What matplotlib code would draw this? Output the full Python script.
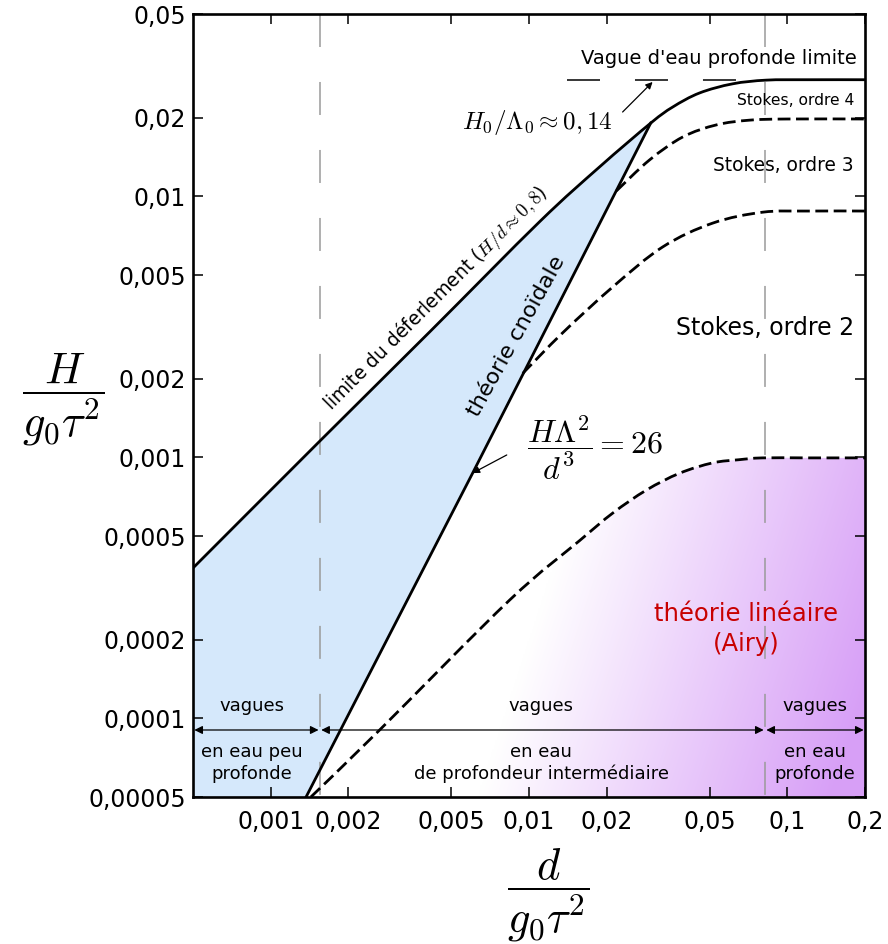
import numpy as np
import matplotlib
matplotlib.use("Agg")
import matplotlib.pyplot as plt
from matplotlib.patches import Polygon, PathPatch
from matplotlib.path import Path
from matplotlib.ticker import FixedLocator, FixedFormatter, NullLocator

plt.rcParams['mathtext.fontset'] = 'cm'
plt.rcParams['font.family'] = ['DejaVu Sans']

# ---------------- data ----------------
x_ticks = [0.001, 0.002, 0.005, 0.01, 0.02, 0.05, 0.1, 0.2]
x_tick_labels = ['0,001', '0,002', '0,005', '0,01', '0,02', '0,05', '0,1', '0,2']
y_ticks = [0.00005, 0.0001, 0.0002, 0.0005, 0.001, 0.002, 0.005, 0.01, 0.02, 0.05]
y_tick_labels = ['0,00005', '0,0001', '0,0002', '0,0005', '0,001', '0,002',
                 '0,005', '0,01', '0,02', '0,05']
x_limits = [0.0005, 0.2]
y_limits = [0.00005, 0.05]

# breaking limit (solid)
break_d = [0.0005, 0.00155, 0.00413, 0.01099, 0.01875, 0.0296, 0.0360, 0.0457, 0.0614, 0.0830, 0.12, 0.2]
break_H = [0.000377, 0.001156, 0.00303, 0.0080, 0.01297, 0.0191, 0.0220, 0.0249, 0.0270, 0.0279, 0.0280, 0.0280]
junction_index = 5  # break_d[5] is where the Ursell line meets the breaking limit

# Ursell number HL^2/d^3 = 26 (solid)
cnoidal_d = [0.00137, 0.00605, 0.0296]
cnoidal_H = [0.00005, 0.000871, 0.0191]

# Stokes 4 / Stokes 3 boundary (dashed)
s43_d = [0.0218, 0.0293, 0.0394, 0.0532, 0.0715, 0.10, 0.2]
s43_H = [0.0105, 0.0138, 0.0169, 0.0188, 0.0196, 0.0198, 0.0198]

# Stokes 3 / Stokes 2 boundary (dashed)
s32_d = [0.00946, 0.01349, 0.0211, 0.0329, 0.0514, 0.0802, 0.12, 0.2]
s32_H = [0.00210, 0.0030, 0.0045, 0.0064, 0.0079, 0.0087, 0.00879, 0.00879]

# Stokes 2 / linear theory boundary (dashed)
s2_d = [0.00143, 0.00264, 0.00841, 0.0157, 0.0211, 0.0285, 0.0383, 0.0514, 0.065, 0.0802, 0.12, 0.2]
s2_H = [0.00005, 0.0000903, 0.000284, 0.000480, 0.000612, 0.00075, 0.00087, 0.000953, 0.00098,
        0.000996, 0.000996, 0.000996]

# shallow / deep water limits (gray dashed verticals)
shallow_limit = 0.00155
deep_limit = 0.082

# deep-water limiting wave symbol
deep_wave_d = [0.0140, 0.0635]
deep_wave_H = [0.0280, 0.0280]


def smooth_segments(xs, ys):
    """Catmull-Rom curve through the read points, as cubic Bezier segments (log space)."""
    P = np.column_stack([np.log10(xs), np.log10(ys)])
    n = len(P)
    segs = []
    for i in range(n - 1):
        p0 = P[i - 1] if i > 0 else P[i]
        p3 = P[i + 2] if i + 2 < n else P[i + 1]
        c1 = P[i] + (P[i + 1] - p0) / 6.0
        c2 = P[i + 1] - (p3 - P[i]) / 6.0
        segs.append((10 ** c1, 10 ** c2, 10 ** P[i + 1]))
    return 10 ** P[0], segs


def curve_path(xs, ys):
    start, segs = smooth_segments(xs, ys)
    verts = [start]
    codes = [Path.MOVETO]
    for c1, c2, p in segs:
        verts += [c1, c2, p]
        codes += [Path.CURVE4] * 3
    return Path(np.array(verts), codes)


# ---------------- figure ----------------
W, Hpx = 888, 944
fig = plt.figure(figsize=(W / 100, Hpx / 100), dpi=100)
L, R, B, T = 193, 865, 797, 14
ax = fig.add_axes([L / W, 1 - B / Hpx, (R - L) / W, (B - T) / Hpx])
ax.set_xscale('log')
ax.set_yscale('log')
ax.set_xlim(*x_limits)
ax.set_ylim(*y_limits)

# purple gradient under linear-theory boundary
nx, ny = 500, 500
XF, YF = np.meshgrid(np.linspace(0, 1, nx), np.linspace(0, 1, ny))
px = L + XF * (R - L)
py = B - YF * (B - T)
t = ((px - 478) * 0.95 + (py - 797) * 0.31) / 335.0
t = np.clip(t, 0, 1)
purple = np.array([0.845, 0.625, 0.968])
img = np.ones((ny, nx, 3)) * (1 - t[..., None]) + purple * t[..., None]
im = ax.imshow(img, extent=[0, 1, 0, 1], transform=ax.transAxes, origin='lower',
               aspect='auto', zorder=1, interpolation='bilinear')
start, segs = smooth_segments(s2_d, s2_H)
verts = [start]
codes = [Path.MOVETO]
for c1, c2, p in segs:
    verts += [c1, c2, p]
    codes += [Path.CURVE4] * 3
verts += [(x_limits[1], y_limits[0]), (s2_d[0], y_limits[0]), start]
codes += [Path.LINETO, Path.LINETO, Path.CLOSEPOLY]
clip_patch = PathPatch(Path(np.array(verts), codes), transform=ax.transData,
                       facecolor='none', edgecolor='none')
ax.add_patch(clip_patch)
im.set_clip_path(clip_patch)

# blue cnoidal region
start, segs = smooth_segments(break_d, break_H)
verts = [(x_limits[0], y_limits[0]), start]
codes = [Path.MOVETO, Path.LINETO]
for c1, c2, p in segs[:junction_index]:
    verts += [c1, c2, p]
    codes += [Path.CURVE4] * 3
for cx, cy in zip(cnoidal_d[::-1][1:], cnoidal_H[::-1][1:]):
    verts.append((cx, cy))
    codes.append(Path.LINETO)
verts.append((x_limits[0], y_limits[0]))
codes.append(Path.CLOSEPOLY)
ax.add_patch(PathPatch(Path(np.array(verts), codes), facecolor='#d5e8fb', edgecolor='none',
                       zorder=1.5))

# gray vertical limits
for xv in [shallow_limit, deep_limit]:
    ax.plot([xv, xv], [y_limits[1], y_limits[0]], color='#9a9a9a', lw=1.1,
            dashes=(21.6, 22.9), zorder=2)

lw = 2.0
ax.add_patch(PathPatch(curve_path(break_d, break_H), fill=False, edgecolor='k', lw=lw, zorder=4))
ax.plot(cnoidal_d, cnoidal_H, color='k', lw=lw, zorder=4)
for dd, hh in [(s43_d, s43_H), (s32_d, s32_H), (s2_d, s2_H)]:
    ax.add_patch(PathPatch(curve_path(dd, hh), fill=False, edgecolor='k', lw=lw,
                           linestyle=(0, (4.6, 2.0)), zorder=4))
ax.plot(deep_wave_d, deep_wave_H, color='k', lw=1.1, dashes=(21.6, 22.9), zorder=4)

# ticks
ax.xaxis.set_major_locator(FixedLocator(x_ticks))
ax.xaxis.set_major_formatter(FixedFormatter(x_tick_labels))
ax.yaxis.set_major_locator(FixedLocator(y_ticks))
ax.yaxis.set_major_formatter(FixedFormatter(y_tick_labels))
ax.xaxis.set_minor_locator(NullLocator())
ax.yaxis.set_minor_locator(NullLocator())
ax.tick_params(which='major', direction='in', length=7, width=1.1, top=True, right=True,
               labelsize=17, color='k')
ax.tick_params(axis='x', pad=9)
ax.tick_params(axis='y', pad=5)
for s in ax.spines.values():
    s.set_linewidth(1.9)
    s.set_zorder(6)


def axf(pxx, pyy):
    return ((pxx - L) / (R - L), (B - pyy) / (B - T))


def fig_pt(pxx, pyy):
    return (pxx / W, 1 - pyy / Hpx)


# axis labels
fig.text(*fig_pt(63, 400), r'$\dfrac{H}{g_0\tau^2}$', fontsize=32, ha='center', va='center')
fig.text(*fig_pt(548, 895), r'$\dfrac{d}{g_0\tau^2}$', fontsize=32, ha='center', va='center')

# region texts
ax.text(*axf(857, 58), "Vague d'eau profonde limite", transform=ax.transAxes, fontsize=14,
        ha='right', va='center', zorder=7)
ax.text(*axf(854, 100), "Stokes, ordre 4", transform=ax.transAxes, fontsize=11.2,
        ha='right', va='center', zorder=7)
ax.text(*axf(854, 165), "Stokes, ordre 3", transform=ax.transAxes, fontsize=13.4,
        ha='right', va='center', zorder=7)
ax.text(*axf(854, 328), "Stokes, ordre 2", transform=ax.transAxes, fontsize=17,
        ha='right', va='center', zorder=7)
ax.text(*axf(746, 629), "théorie linéaire\n(Airy)", transform=ax.transAxes, fontsize=17.5,
        ha='center', va='center', color='#c80000', linespacing=1.35, zorder=7)
ax.text(*axf(436, 298), r"limite du déferlement ($H/d \approx 0,8$)", transform=ax.transAxes,
        fontsize=13.5, ha='center', va='center', rotation=45, rotation_mode='anchor', zorder=7)
ax.text(*axf(516, 336), "théorie cnoïdale", transform=ax.transAxes,
        fontsize=16, ha='center', va='center', rotation=61, rotation_mode='anchor', zorder=7)
ax.text(*axf(613, 122), r"$H_0/\Lambda_0 \approx 0,14$", transform=ax.transAxes,
        fontsize=18, ha='right', va='center', zorder=7)
ax.text(*axf(527, 448), r"$\dfrac{H\Lambda^2}{d^3} = 26$", transform=ax.transAxes,
        fontsize=23, ha='left', va='center', zorder=7)

# annotation arrows
ax.annotate('', xy=(0.0301, 0.02745), xytext=(0.02304, 0.02106),
            arrowprops=dict(arrowstyle='-|>', lw=0.9, color='k', mutation_scale=10,
                            shrinkA=0, shrinkB=0), zorder=7)
ax.annotate('', xy=(0.00605, 0.000871), xytext=(0.0082, 0.001022),
            arrowprops=dict(arrowstyle='-|>', lw=0.9, color='k', mutation_scale=10,
                            shrinkA=0, shrinkB=0), zorder=7)

# water-depth zones
arrow_y = 0.0000903
zones = [(x_limits[0], shallow_limit), (shallow_limit, deep_limit), (deep_limit, x_limits[1])]
for a, b in zones:
    ax.annotate('', xy=(b / 1.012, arrow_y), xytext=(a * 1.012, arrow_y),
                arrowprops=dict(arrowstyle='<|-|>', lw=0.9, color='k', mutation_scale=12,
                                shrinkA=0, shrinkB=0), zorder=7)

zone_text = [(252, "en eau peu\nprofonde"), (541, "en eau\nde profondeur intermédiaire"),
             (815, "en eau\nprofonde")]
for xp, txt in zone_text:
    ax.text(*axf(xp, 706), "vagues", transform=ax.transAxes, fontsize=13, ha='center',
            va='center', zorder=7)
    ax.text(*axf(xp, 763), txt, transform=ax.transAxes, fontsize=13, ha='center',
            va='center', linespacing=1.25, zorder=7)

fig.savefig('out.png', dpi=100)
